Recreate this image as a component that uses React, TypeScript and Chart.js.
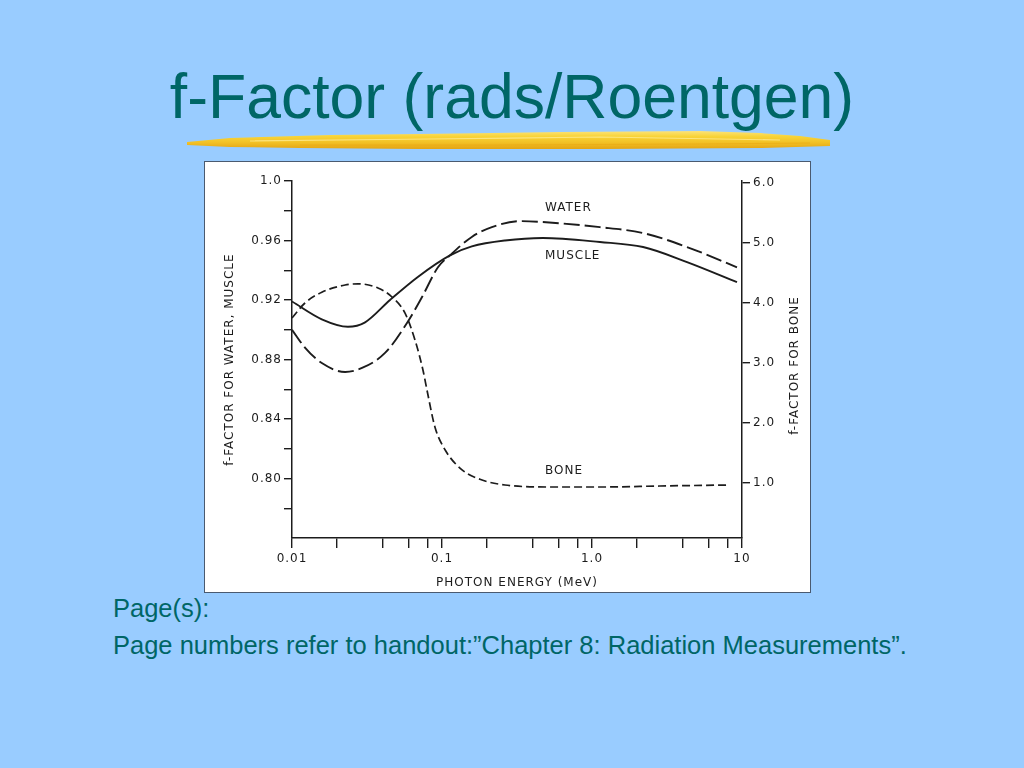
import { useEffect, useRef } from "react";
import { Chart, registerables } from "chart.js";

Chart.register(...registerables);

// ---- data ----
const ENERGY_MUSCLE = [0.01, 0.0158, 0.0236, 0.0307, 0.045, 0.069, 0.113, 0.158, 0.263, 0.47, 1.13, 2.19, 4.3, 9.26];
const F_MUSCLE = [0.919, 0.907, 0.902, 0.905, 0.92, 0.9355, 0.95, 0.956, 0.96, 0.9617, 0.959, 0.9556, 0.9455, 0.932];

const ENERGY_WATER = [0.01, 0.0122, 0.0158, 0.0226, 0.0293, 0.0417, 0.0584, 0.0736, 0.094, 0.113, 0.158, 0.215, 0.331, 0.47, 1.13, 2.19, 4.3, 9.26];
const F_WATER = [0.9, 0.888, 0.8776, 0.8716, 0.8743, 0.8844, 0.9045, 0.922, 0.942, 0.95, 0.9624, 0.969, 0.973, 0.9724, 0.969, 0.965, 0.9556, 0.942];

const ENERGY_BONE = [0.01, 0.0122, 0.0158, 0.0226, 0.0275, 0.0374, 0.0464, 0.0567, 0.0661, 0.0747, 0.0794, 0.0898, 0.105, 0.136, 0.185, 0.263, 0.525, 1.13, 2.84, 8.3];
const F_BONE = [3.75, 4.0, 4.18, 4.3, 4.32, 4.25, 4.1, 3.83, 3.38, 2.88, 2.55, 1.93, 1.55, 1.22, 1.05, 0.967, 0.933, 0.933, 0.95, 0.967];

const X_TICKS = [0.01, 0.02, 0.04, 0.06, 0.08, 0.1, 0.2, 0.4, 0.6, 0.8, 1, 2, 4, 6, 8, 10];
const X_LABELS = ["0.01", "", "", "", "", "0.1", "", "", "", "", "1.0", "", "", "", "", "10"];
const LEFT_TICKS = [0.78, 0.8, 0.82, 0.84, 0.86, 0.88, 0.9, 0.92, 0.94, 0.96, 0.98, 1.0];
const LEFT_LABELS = ["", "0.80", "", "0.84", "", "0.88", "", "0.92", "", "0.96", "", "1.0"];
const RIGHT_TICKS = [1, 2, 3, 4, 5, 6];
const RIGHT_LABELS = ["1.0", "2.0", "3.0", "4.0", "5.0", "6.0"];

const CURVE_LABELS = ["WATER", "MUSCLE", "BONE"];
const CURVE_LABEL_E = [0.486, 0.486, 0.486];
const CURVE_LABEL_F = [0.9818, 0.9496, 0.805];

const TITLE = "f-Factor (rads/Roentgen)";
const NOTE_1 = "Page(s):";
const NOTE_2 = "Page numbers refer to handout:\u201DChapter 8: Radiation Measurements\u201D.";
const X_TITLE = "PHOTON ENERGY (MeV)";
const LEFT_TITLE = "f-FACTOR FOR WATER, MUSCLE";
const RIGHT_TITLE = "f-FACTOR FOR BONE";

const INK = "#1c1c1c";
const FONT = "'DejaVu Sans', sans-serif";
const FS = 12;

const pts = (xs: number[], ys: number[]) => xs.map((x, i) => ({ x, y: ys[i] }));

const spacing = {
  id: "letterSpacing",
  beforeUpdate(chart: any) {
    chart.ctx.letterSpacing = "1px";
  },
  beforeDraw(chart: any) {
    chart.ctx.letterSpacing = "1px";
  },
};

const annotations = {
  id: "curveAnnotations",
  afterDatasetsDraw(chart: any) {
    const { ctx, scales } = chart;
    ctx.save();
    ctx.letterSpacing = "1px";
    ctx.fillStyle = INK;
    ctx.font = `${FS}px ${FONT}`;
    ctx.textAlign = "left";
    ctx.textBaseline = "middle";
    CURVE_LABELS.forEach((t, i) => {
      ctx.fillText(t, scales.x.getPixelForValue(CURVE_LABEL_E[i]), scales.y.getPixelForValue(CURVE_LABEL_F[i]));
    });
    // right axis title, reading bottom-to-top
    const ca = chart.chartArea;
    ctx.translate(ca.right + 53, (ca.top + ca.bottom) / 2 + 6);
    ctx.rotate(-Math.PI / 2);
    ctx.textAlign = "center";
    ctx.fillText(RIGHT_TITLE, 0, 0);
    ctx.restore();
  },
};

function ChartBox() {
  const ref = useRef<HTMLCanvasElement | null>(null);
  useEffect(() => {
    if (!ref.current) return;
    const tickFont = { family: FONT, size: FS };
    const chart = new Chart(ref.current, {
      type: "line",
      data: {
        datasets: [
          {
            label: "Muscle",
            data: pts(ENERGY_MUSCLE, F_MUSCLE),
            borderColor: INK,
            borderWidth: 1.9,
            yAxisID: "y",
            cubicInterpolationMode: "monotone",
            pointRadius: 0,
            fill: false,
          },
          {
            label: "Water",
            data: pts(ENERGY_WATER, F_WATER),
            borderColor: INK,
            borderWidth: 1.9,
            borderDash: [16, 5],
            yAxisID: "y",
            cubicInterpolationMode: "monotone",
            pointRadius: 0,
            fill: false,
          },
          {
            label: "Bone",
            data: pts(ENERGY_BONE, F_BONE),
            borderColor: INK,
            borderWidth: 1.7,
            borderDash: [8, 4],
            yAxisID: "y1",
            cubicInterpolationMode: "monotone",
            pointRadius: 0,
            fill: false,
          },
        ],
      },
      options: {
        animation: false,
        responsive: false,
        maintainAspectRatio: false,
        layout: { padding: { top: 19, left: 0, right: 0, bottom: 0 } },
        plugins: { legend: { display: false }, tooltip: { enabled: false } },
        scales: {
          x: {
            type: "logarithmic",
            min: 0.01,
            max: 10,
            afterBuildTicks: (s: any) => {
              s.ticks = X_TICKS.map((v) => ({ value: v }));
            },
            afterFit: (s: any) => {
              s.height = 54;
            },
            grid: { drawOnChartArea: false, tickLength: 10, color: INK, lineWidth: 1.4 },
            border: { color: INK, width: 1.5 },
            ticks: {
              autoSkip: false,
              maxRotation: 0,
              padding: 4,
              color: INK,
              font: tickFont,
              callback: (_v: any, i: number) => X_LABELS[i] ?? "",
            },
            title: {
              display: true,
              text: X_TITLE,
              color: INK,
              font: { family: FONT, size: FS },
              padding: { top: 0, bottom: 2 },
            },
          },
          y: {
            type: "linear",
            position: "left",
            min: 0.76,
            max: 1.0,
            afterBuildTicks: (s: any) => {
              s.ticks = LEFT_TICKS.map((v) => ({ value: v }));
            },
            afterFit: (s: any) => {
              s.width = 87;
            },
            grid: { drawOnChartArea: false, tickLength: 8, color: INK, lineWidth: 1.4 },
            border: { color: INK, width: 1.5 },
            ticks: {
              autoSkip: false,
              padding: 2,
              color: INK,
              font: tickFont,
              callback: (_v: any, i: number) => LEFT_LABELS[i] ?? "",
            },
            title: {
              display: true,
              text: LEFT_TITLE,
              color: INK,
              font: { family: FONT, size: FS },
              padding: { top: 18, bottom: 0 },
            },
          },
          y1: {
            type: "linear",
            position: "right",
            min: 6.0 - 357 / 60 + 2 / 60,
            max: 6.0 + 2 / 60,
            afterBuildTicks: (s: any) => {
              s.ticks = RIGHT_TICKS.map((v) => ({ value: v }));
            },
            afterFit: (s: any) => {
              s.width = 68;
            },
            grid: { drawOnChartArea: false, tickLength: 8, color: INK, lineWidth: 1.4 },
            border: { color: INK, width: 1.5 },
            ticks: {
              autoSkip: false,
              padding: 3,
              color: INK,
              font: tickFont,
              callback: (_v: any, i: number) => RIGHT_LABELS[i] ?? "",
            },
          },
        },
      },
      plugins: [spacing, annotations],
    } as any);
    return () => chart.destroy();
  }, []);
  return <canvas ref={ref} width={605} height={430} style={{ display: "block", width: 605, height: 430 }} />;
}

export default function App() {
  return (
    <div
      style={{
        position: "fixed",
        left: 0,
        top: 0,
        width: 1024,
        height: 768,
        background: "#99CCFF",
        overflow: "hidden",
        fontFamily: "'Liberation Sans', Arial, sans-serif",
      }}
    >
      <div
        style={{
          position: "absolute",
          left: 0,
          width: 1024,
          top: 65,
          textAlign: "center",
          fontSize: 62.5,
          lineHeight: "62.5px",
          color: "#006666",
          whiteSpace: "nowrap",
        }}
      >
        {TITLE}
      </div>
      <svg width={1024} height={768} style={{ position: "absolute", left: 0, top: 0 }}>
        <defs>
          <linearGradient id="brush" x1="0" y1="0" x2="0" y2="1">
            <stop offset="0" stopColor="#FCE27A" />
            <stop offset="0.3" stopColor="#F8D438" />
            <stop offset="0.65" stopColor="#F2C025" />
            <stop offset="1" stopColor="#E4A414" />
          </linearGradient>
        </defs>
        <polygon
          points="187,142 230,138 330,135 420,134 560,132 700,131 760,133 800,136 830,140 830,146 760,148 600,149 420,149 300,148 230,147 187,145"
          fill="url(#brush)"
        />
        <polyline points="250,141 430,139 600,137 780,140" stroke="#FFF0A0" strokeWidth={1.2} fill="none" opacity={0.7} />
        <polyline points="300,145 500,145 700,144 810,143" stroke="#E9A812" strokeWidth={1} fill="none" opacity={0.6} />
      </svg>
      <div
        style={{
          position: "absolute",
          left: 204,
          top: 161,
          width: 605,
          height: 430,
          border: "1px solid #4a5a70",
          background: "#ffffff",
        }}
      >
        <ChartBox />
      </div>
      <div style={{ position: "absolute", left: 113, top: 596, fontSize: 25.5, lineHeight: "25.5px", color: "#006666", whiteSpace: "nowrap" }}>
        {NOTE_1}
      </div>
      <div style={{ position: "absolute", left: 113, top: 633, fontSize: 25.5, lineHeight: "25.5px", color: "#006666", whiteSpace: "nowrap" }}>
        {NOTE_2}
      </div>
    </div>
  );
}
